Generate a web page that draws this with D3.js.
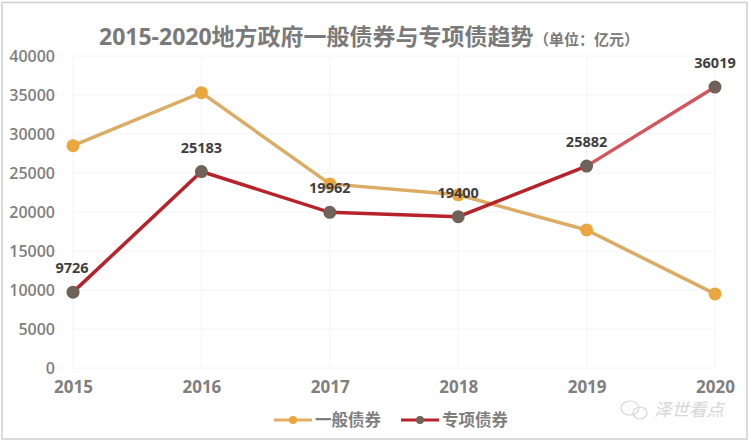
<!DOCTYPE html>
<html>
<head>
<meta charset="utf-8">
<script src="https://cdn.jsdelivr.net/npm/d3@7"></script>
<style>
  html, body { margin: 0; padding: 0; background: #fff; }
  svg { display: block; }
  text { font-family: "Open Sans", "Noto Sans CJK SC", sans-serif; }
</style>
</head>
<body>
<svg id="chart" width="750" height="442"></svg>
<script>
const years = ["2015", "2016", "2017", "2018", "2019", "2020"];
const yTicks = [0, 5000, 10000, 15000, 20000, 25000, 30000, 35000, 40000];
const generalBonds = [28500, 35300, 23600, 22200, 17700, 9500];
const specialBonds = [9726, 25183, 19962, 19400, 25882, 36019];
const seriesNames = ["一般债券", "专项债券"];

const svg = d3.select("#chart");

// frame round the picture
svg.append("rect")
  .attr("x", 2).attr("y", 2.5)
  .attr("width", 745).attr("height", 436.5)
  .attr("fill", "#fff")
  .attr("stroke", "#cfcfcf")
  .attr("stroke-width", 1.5);

const xScale = d3.scalePoint().domain(years).range([73, 715]);
const yScale = d3.scaleLinear().domain([0, 40000]).range([368, 56]);

// faint grid
svg.append("g").selectAll("line").data(yTicks).join("line")
  .attr("x1", 73).attr("x2", 715)
  .attr("y1", d => yScale(d)).attr("y2", d => yScale(d))
  .attr("stroke", "#f4f4f4");
svg.append("g").selectAll("line").data(years).join("line")
  .attr("x1", d => xScale(d)).attr("x2", d => xScale(d))
  .attr("y1", 56).attr("y2", 368)
  .attr("stroke", "#f4f4f4");

// axes
const yAxis = svg.append("g")
  .attr("transform", "translate(56,0)")
  .call(d3.axisLeft(yScale).tickValues(yTicks).tickSize(0).tickPadding(1).tickFormat(d3.format("d")));
const xAxis = svg.append("g")
  .attr("transform", "translate(0,381)")
  .call(d3.axisBottom(xScale).tickSize(0).tickPadding(0));
yAxis.select(".domain").remove();
xAxis.select(".domain").remove();
yAxis.selectAll("text")
  .style("font-size", "16px").style("font-weight", "600").attr("fill", "#7f7f7f");
xAxis.selectAll("text")
  .style("font-size", "17px").style("font-weight", "700").attr("fill", "#7f7f7f");

const line = d3.line()
  .x((d, i) => xScale(years[i]))
  .y(d => yScale(d));

// 一般债券
svg.append("path")
  .attr("d", line(generalBonds))
  .attr("fill", "none")
  .attr("stroke", "#dcac64")
  .attr("stroke-width", 3.5);

// 专项债券, last stretch is lighter in the original
const specialPts = specialBonds.map((v, i) => ({ year: years[i], value: v }));
const segLine = d3.line().x(d => xScale(d.year)).y(d => yScale(d.value));
svg.append("path")
  .attr("d", segLine(specialPts.slice(0, 5)))
  .attr("fill", "none")
  .attr("stroke", "#b8222a")
  .attr("stroke-width", 3.5);
svg.append("path")
  .attr("d", segLine(specialPts.slice(4)))
  .attr("fill", "none")
  .attr("stroke", "#d4555c")
  .attr("stroke-width", 3.5);

svg.append("g").selectAll("circle").data(generalBonds).join("circle")
  .attr("cx", (d, i) => xScale(years[i]))
  .attr("cy", d => yScale(d))
  .attr("r", 6.5)
  .attr("fill", "#eba63f");

svg.append("g").selectAll("circle").data(specialBonds).join("circle")
  .attr("cx", (d, i) => xScale(years[i]))
  .attr("cy", d => yScale(d))
  .attr("r", 6.5)
  .attr("fill", "#6e6259");

// value labels
svg.append("g").selectAll("text").data(specialBonds).join("text")
  .attr("x", (d, i) => xScale(years[i]) + (i === 0 ? -1 : 0))
  .attr("y", d => yScale(d) - 19)
  .attr("text-anchor", "middle")
  .style("font-size", "14.5px")
  .style("font-weight", "700")
  .attr("fill", "#3f3f3f")
  .text(d => d);

// title
svg.append("text")
  .attr("x", 99).attr("y", 45)
  .style("font-family", '"Open Sans", "Noto Sans CJK SC", sans-serif')
  .style("font-size", "23px")
  .style("font-weight", "700")
  .attr("fill", "#7a7a7a")
  .text("2015-2020地方政府一般债券与专项债趋势");
svg.append("text")
  .attr("x", 534).attr("y", 45)
  .style("font-family", '"Noto Sans CJK SC", sans-serif')
  .style("font-size", "15px")
  .style("font-weight", "700")
  .attr("fill", "#7a7a7a")
  .text("（单位：亿元）");

// legend
const legendColors = ["#e3ae62", "#b8222a"];
const legendDots = ["#eba63f", "#6e6259"];
const legendX = [274, 401];
seriesNames.forEach((name, i) => {
  const g = svg.append("g").attr("transform", "translate(" + legendX[i] + ",420)");
  g.append("line").attr("x1", 0).attr("x2", 38).attr("stroke", legendColors[i]).attr("stroke-width", 3);
  g.append("circle").attr("cx", 19).attr("r", 4).attr("fill", legendDots[i]);
  g.append("text")
    .attr("x", 41).attr("y", 6)
    .style("font-family", '"Noto Sans CJK SC", sans-serif')
    .style("font-size", "16.5px")
    .style("font-weight", "700")
    .attr("fill", "#7f7f7f")
    .text(name);
});

// watermark
svg.append("text")
  .attr("x", 654).attr("y", 416)
  .style("font-family", '"Noto Sans CJK SC", sans-serif')
  .style("font-size", "17.5px")
  .style("font-style", "italic")
  .attr("fill", "#d6d6d6")
  .text("泽世看点");
const wm = svg.append("g").attr("fill", "none").attr("stroke", "#d6d6d6").attr("stroke-width", 1.2);
wm.append("ellipse").attr("cx", 630).attr("cy", 408).attr("rx", 9).attr("ry", 7);
wm.append("ellipse").attr("cx", 640).attr("cy", 413).attr("rx", 7).attr("ry", 6);
</script>
</body>
</html>
